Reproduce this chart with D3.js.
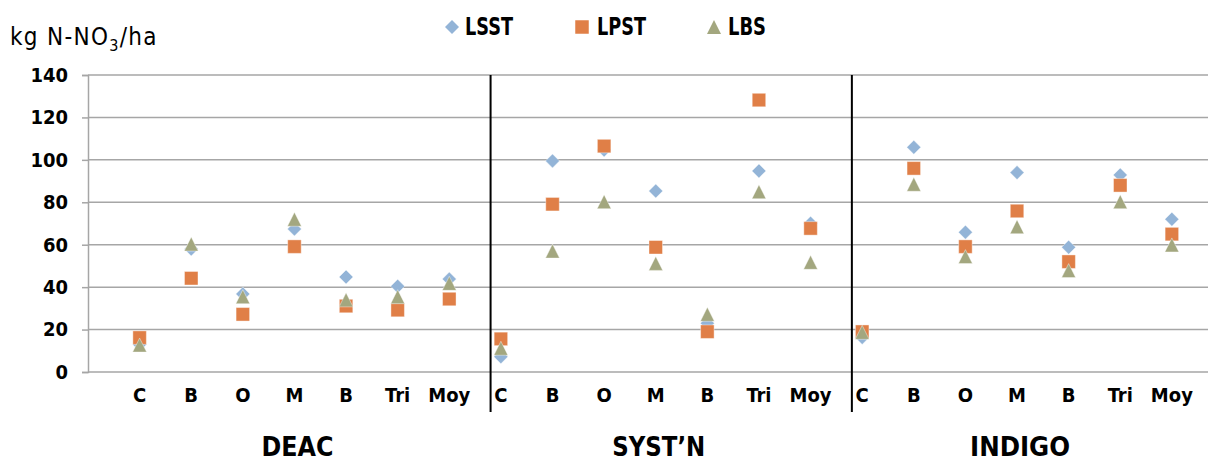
<!DOCTYPE html>
<html>
<head>
<meta charset="utf-8">
<script src="https://cdn.jsdelivr.net/npm/d3@7"></script>
<style>
  html, body { margin: 0; padding: 0; background: #fff; }
  svg { display: block; }
  text { font-family: "DejaVu Sans Condensed", "DejaVu Sans", "Liberation Sans", sans-serif; }
</style>
</head>
<body>
<svg id="chart" width="1210" height="462"></svg>
<script>
// Sites and crop categories along the x axis
const groups = ["DEAC", "SYST\u2019N", "INDIGO"];
const categories = ["C", "B", "O", "M", "B", "Tri", "Moy"];
const yTicks = [0, 20, 40, 60, 80, 100, 120, 140];

// Nitrate (kg N-NO3/ha) per series, 7 categories per site
const seriesNames = ["LSST", "LPST", "LBS"];
const lsst = [13, 58, 36.8, 67.4, 44.8, 40.4, 43.8,
              7.2, 99.5, 104.7, 85.3, 23, 94.8, 70.1,
              16.3, 105.9, 65.9, 94, 58.8, 92.9, 72];
const lpst = [16.2, 44.2, 27.2, 59.1, 31.1, 29.2, 34.4,
              15.6, 79.1, 106.5, 58.8, 19, 128.2, 67.7,
              19, 96, 59.1, 75.9, 52, 88, 65];
const lbs  = [12.7, 60.3, 35.5, 72, 34, 35.5, 41.8,
              11.2, 57, 80.3, 51.2, 27.2, 85, 51.7,
              18.7, 88.5, 54.4, 68.5, 47.8, 80.3, 59.9];

const colors = { LSST: "#93b4d7", LPST: "#e07f47", LBS: "#a3a77f" };

// Marker shapes
const diamond = { draw(ctx, size) { const r = Math.sqrt(size) / 2;
  ctx.moveTo(0, -r); ctx.lineTo(r, 0); ctx.lineTo(0, r); ctx.lineTo(-r, 0); ctx.closePath(); } };
const square = { draw(ctx, size) { const r = Math.sqrt(size) / 2;
  ctx.rect(-r, -r, 2 * r, 2 * r); } };
const triangle = { draw(ctx, size) { const r = Math.sqrt(size) / 2;
  ctx.moveTo(0, -r); ctx.lineTo(r, r); ctx.lineTo(-r, r); ctx.closePath(); } };
const shapes = { LSST: [diamond, 14], LPST: [square, 13.5], LBS: [triangle, 14] };

const svg = d3.select("#chart");
const plotLeft = 88, plotRight = 1208, plotTop = 75, plotBottom = 372;

const x = d3.scaleLinear().domain([0, 21.7]).range([plotLeft, plotRight]);
const y = d3.scaleLinear().domain([0, 140]).range([plotBottom, plotTop]);

// Horizontal gridlines
svg.append("g")
  .selectAll("line").data(yTicks).join("line")
  .attr("x1", plotLeft).attr("x2", plotRight)
  .attr("y1", d => y(d)).attr("y2", d => y(d))
  .attr("stroke", "#a6a6a6").attr("stroke-width", 1.5);

// Y axis
const yAxis = svg.append("g").attr("transform", `translate(${plotLeft},0)`)
  .call(d3.axisLeft(y).tickValues(yTicks).tickSize(6).tickPadding(14));
yAxis.select(".domain").attr("stroke", "#a6a6a6").attr("stroke-width", 1.5);
yAxis.selectAll(".tick line").attr("stroke", "#a6a6a6").attr("stroke-width", 1.5);
yAxis.selectAll(".tick text")
  .attr("font-family", "'DejaVu Sans Condensed', 'DejaVu Sans', sans-serif")
  .attr("font-size", 20).attr("font-weight", "bold").attr("fill", "#000");

// Site separators
const seps = [7.8, 14.8];
svg.append("g").selectAll("line").data(seps).join("line")
  .attr("x1", d => x(d)).attr("x2", d => x(d))
  .attr("y1", plotTop).attr("y2", 412)
  .attr("stroke", "#000").attr("stroke-width", 2);

// Category labels
const xIdx = d3.range(1, 22);
svg.append("g").selectAll("text").data(xIdx).join("text")
  .attr("x", d => x(d)).attr("y", 402)
  .attr("text-anchor", "middle")
  .attr("font-size", 20).attr("font-weight", "bold")
  .text(d => categories[(d - 1) % categories.length]);

// Site labels
const groupWidths = [72, 93, 100];
svg.append("g").selectAll("text").data(groups).join("text")
  .attr("x", (d, i) => x(4 + i * 7) + 3).attr("y", 456)
  .attr("text-anchor", "middle")
  .attr("font-size", 26).attr("font-weight", "bold")
  .attr("textLength", (d, i) => groupWidths[i])
  .attr("lengthAdjust", "spacingAndGlyphs")
  .text(d => d);

// Markers
const seriesData = { LSST: lsst, LPST: lpst, LBS: lbs };
seriesNames.forEach(name => {
  const [shape, w] = shapes[name];
  svg.append("g").selectAll("path").data(seriesData[name]).join("path")
    .attr("transform", (d, i) => `translate(${x(i + 1)},${y(d)})`)
    .attr("d", d3.symbol().type(shape).size(w * w))
    .attr("fill", colors[name])
    .attr("stroke", "#fff").attr("stroke-opacity", 0.5).attr("stroke-width", 0.8);
});

// Axis title
const title = svg.append("text").attr("x", 10).attr("y", 45)
  .attr("font-family", "'DejaVu Sans', sans-serif")
  .attr("font-size", 24).attr("letter-spacing", 1.3).attr("fill", "#000");
title.append("tspan").text("kg N-NO");
title.append("tspan").attr("font-size", 16).attr("dy", 6).text("3");
title.append("tspan").attr("dy", -6).text("/ha");

// Legend
const legendItems = [
  { name: "LSST", mx: 452, tx: 465, w: 48 },
  { name: "LPST", mx: 582, tx: 597, w: 49 },
  { name: "LBS", mx: 714, tx: 728, w: 38 }
];
const lg = svg.append("g");
legendItems.forEach(it => {
  const [shape, w] = shapes[it.name];
  lg.append("path")
    .attr("transform", `translate(${it.mx},27)`)
    .attr("d", d3.symbol().type(shape).size(w * w))
    .attr("fill", colors[it.name]);
  lg.append("text").attr("x", it.tx).attr("y", 35)
    .attr("font-size", 25).attr("font-weight", "bold")
    .attr("textLength", it.w).attr("lengthAdjust", "spacingAndGlyphs")
    .text(it.name);
});
</script>
</body>
</html>
